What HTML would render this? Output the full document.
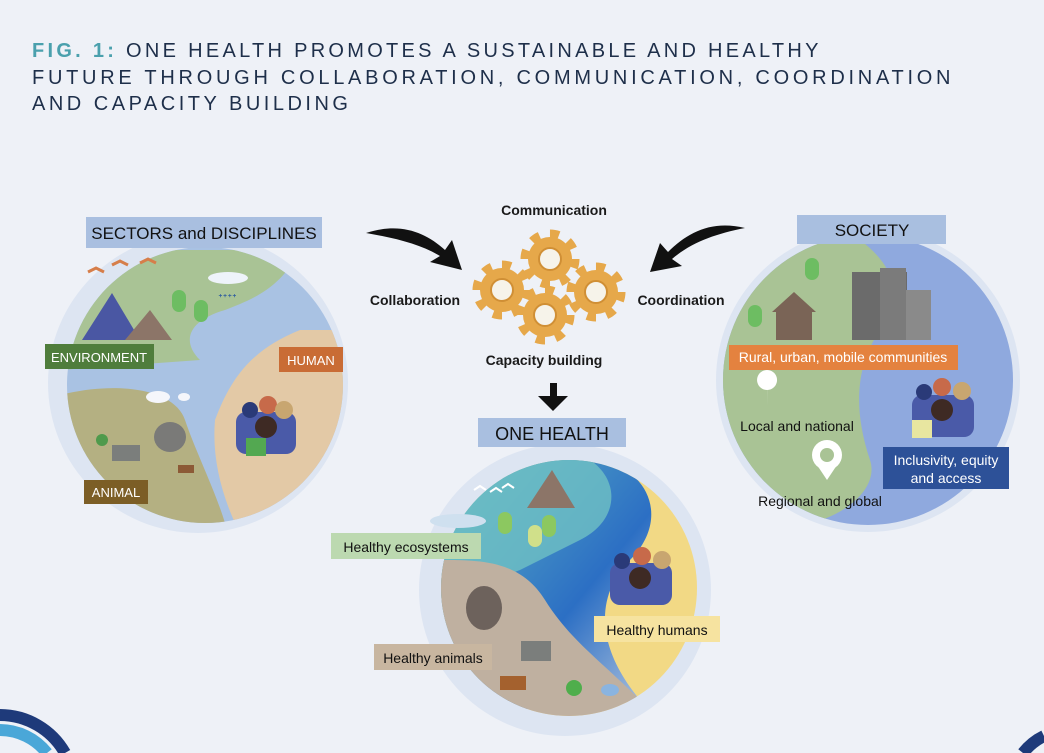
<!DOCTYPE html>
<html><head><meta charset="utf-8"><style>
html,body{margin:0;padding:0;background:#eef1f7;width:1044px;height:753px;overflow:hidden;}
svg{display:block;font-family:"Liberation Sans",sans-serif;}
</style></head><body>
<svg width="1044" height="753" viewBox="0 0 1044 753" xmlns="http://www.w3.org/2000/svg">
<defs>
<g id="gear"><circle r="22" fill="#e6a84a"/><circle r="25" fill="none" stroke="#e6a84a" stroke-width="9" stroke-dasharray="9 10.6"/><circle r="11" fill="#f6f3ea" stroke="#d08f35" stroke-width="2"/></g>
<linearGradient id="swirl" x1="0" y1="0" x2="1" y2="1"><stop offset="0" stop-color="#5fb7c4"/><stop offset="0.6" stop-color="#2c6fc4"/><stop offset="1" stop-color="#b7c8e0"/></linearGradient>
</defs>
<rect width="1044" height="753" fill="#eef1f7"/>
<g font-size="20" fill="#1e2f4a" letter-spacing="3.5">
<text x="32" y="57" textLength="790"><tspan fill="#4aa0ad" font-weight="bold">FIG. 1:</tspan> ONE HEALTH PROMOTES A SUSTAINABLE AND HEALTHY</text>
<text x="32" y="84" textLength="922">FUTURE THROUGH COLLABORATION, COMMUNICATION, COORDINATION</text>
<text x="32" y="110">AND CAPACITY BUILDING</text>
</g>

<circle cx="198" cy="383" r="150" fill="#dde5f2"/>
<circle cx="205" cy="385" r="138" fill="#a9c2e3"/>
<clipPath id="cl"><circle cx="205" cy="385" r="138"/></clipPath>
<g clip-path="url(#cl)">
<path d="M60 250 L300 250 C280 290 250 300 225 310 C190 320 180 340 200 360 L60 370Z" fill="#a9c395"/>
<path d="M60 395 C120 380 175 390 185 420 C195 450 215 490 225 523 L60 523Z" fill="#b4b082"/>
<path d="M215 420 C230 380 250 350 300 330 L343 330 L343 523 L235 523 C220 490 212 455 215 420Z" fill="#e3c9a6"/>
<polygon points="82,340 112,293 140,340" fill="#4a57a3"/><polygon points="125,340 150,310 172,340" fill="#8c7568"/>
<rect x="172" y="290" width="14" height="22" rx="7" fill="#6dbd62"/><rect x="194" y="300" width="14" height="22" rx="7" fill="#6dbd62"/>
<g fill="#2f5d9f" font-size="12"><text x="218" y="302">ᕀᕀᕀᕀ</text></g>
<ellipse cx="228" cy="278" rx="20" ry="6" fill="#eef3fa"/>
<ellipse cx="158" cy="397" rx="12" ry="6" fill="#f5f6fb"/><ellipse cx="184" cy="397" rx="6" ry="4" fill="#f5f6fb"/>
<ellipse cx="170" cy="437" rx="16" ry="15" fill="#7a7a78"/><rect x="112" y="445" width="28" height="16" fill="#7b7e7c"/>
<rect x="178" y="465" width="16" height="8" fill="#8c5a36"/>
<circle cx="102" cy="440" r="6" fill="#4f9a4c"/>
<g><rect x="236" y="412" width="60" height="42" rx="10" fill="#4a5aa8"/><circle cx="250" cy="410" r="8" fill="#2a3a78"/><circle cx="268" cy="405" r="9" fill="#c76a4a"/><circle cx="284" cy="410" r="9" fill="#c8a670"/><circle cx="266" cy="427" r="11" fill="#3e2a24"/><rect x="246" y="438" width="20" height="18" fill="#53a851"/></g>
</g>
<path d="M88 272 l8 -4 l8 4 M112 265 l8 -4 l8 4 M140 263 l8 -4 l8 4" stroke="#d67e4a" stroke-width="3" fill="none"/>
<rect x="86" y="217" width="236" height="31" fill="#a9bfe0"/>
<text x="204" y="239" font-size="17" text-anchor="middle" fill="#111">SECTORS and DISCIPLINES</text>
<rect x="45" y="344" width="109" height="25" fill="#4f7d3c"/><text x="99" y="362" font-size="13" fill="#fff" text-anchor="middle">ENVIRONMENT</text>
<rect x="279" y="347" width="64" height="25" fill="#c96c35"/><text x="311" y="365" font-size="13" fill="#fff" text-anchor="middle">HUMAN</text>
<rect x="84" y="480" width="64" height="24" fill="#7c5e26"/><text x="116" y="497" font-size="13" fill="#fff" text-anchor="middle">ANIMAL</text>

<use href="#gear" x="502" y="290"/><use href="#gear" x="550" y="259"/><use href="#gear" x="596" y="292"/><use href="#gear" x="545" y="315"/>
<g font-size="14" font-weight="bold" fill="#1a1a1a">
<text x="554" y="215" text-anchor="middle">Communication</text>
<text x="415" y="305" text-anchor="middle">Collaboration</text>
<text x="681" y="305" text-anchor="middle">Coordination</text>
<text x="544" y="365" text-anchor="middle">Capacity building</text>
</g>
<path d="M366 233 C400 222 425 232 445 250 L452 240 L462 270 L430 262 L440 256 C420 244 395 238 366 233Z" fill="#111"/>
<path d="M745 228 C712 220 688 232 668 252 L660 243 L650 272 L682 266 L672 259 C692 242 715 234 745 228Z" fill="#111"/>
<path d="M550 383 L557 383 L557 396 L568 396 L553 411 L538 396 L550 396Z" fill="#111"/>

<circle cx="565" cy="590" r="146" fill="#dde5f2"/>
<clipPath id="cb"><circle cx="569" cy="588" r="128"/></clipPath>
<g clip-path="url(#cb)">
<rect x="441" y="460" width="256" height="256" fill="#f2d985"/>
<path d="M441 460 L600 460 C650 470 670 520 630 560 C600 590 590 640 640 700 L441 716Z" fill="url(#swirl)"/>
<path d="M441 460 L590 460 C620 480 620 520 580 540 C560 550 540 560 520 570 L441 600Z" fill="#6fc0c4" opacity="0.8"/>
<path d="M441 560 C480 560 520 560 545 600 C570 640 600 660 640 700 L640 716 L441 716Z" fill="#bfb0a0"/>
<polygon points="527,508 552,470 575,508" fill="#8c7568"/>
<rect x="498" y="512" width="14" height="22" rx="7" fill="#8cc860"/><rect x="528" y="525" width="14" height="22" rx="7" fill="#d0e08a"/><rect x="542" y="515" width="14" height="22" rx="7" fill="#8cc860"/>
<ellipse cx="484" cy="608" rx="18" ry="22" fill="#6d625c"/>
<rect x="521" y="641" width="30" height="20" fill="#7b7e7c"/><rect x="500" y="676" width="26" height="14" fill="#a4612e"/><circle cx="574" cy="688" r="8" fill="#4fae4c"/><ellipse cx="610" cy="690" rx="9" ry="6" fill="#8ab4e0"/>
<g><rect x="610" y="563" width="62" height="42" rx="10" fill="#4a5aa8"/><circle cx="622" cy="561" r="8" fill="#2a3a78"/><circle cx="642" cy="556" r="9" fill="#c76a4a"/><circle cx="662" cy="560" r="9" fill="#c8a670"/><circle cx="640" cy="578" r="11" fill="#3e2a24"/></g>
</g>
<ellipse cx="458" cy="521" rx="28" ry="7" fill="#cfe0ef"/>
<path d="M474 490 l6 -4 l6 4 M490 492 l6 -4 l6 4 M502 488 l6 -4 l6 4" stroke="#fff" stroke-width="2" fill="none"/>
<rect x="478" y="418" width="148" height="29" fill="#a9bfe0"/>
<text x="552" y="440" font-size="18" text-anchor="middle" fill="#111">ONE HEALTH</text>
<rect x="331" y="533" width="150" height="26" fill="#bcd9b0"/><text x="406" y="552" font-size="14" text-anchor="middle" fill="#111">Healthy ecosystems</text>
<rect x="594" y="616" width="126" height="26" fill="#f6e3a0"/><text x="657" y="635" font-size="14" text-anchor="middle" fill="#111">Healthy humans</text>
<rect x="374" y="644" width="118" height="26" fill="#c8b6a0"/><text x="433" y="663" font-size="14" text-anchor="middle" fill="#111">Healthy animals</text>

<circle cx="868" cy="380" r="152" fill="#dde5f2"/>
<circle cx="868" cy="380" r="145" fill="#8fa9de"/>
<clipPath id="cr"><circle cx="868" cy="380" r="145"/></clipPath>
<g clip-path="url(#cr)">
<path d="M723 240 L860 240 C900 270 900 300 880 330 C860 360 850 400 870 460 C880 490 840 520 800 525 L723 525Z" fill="#a9c395"/>
<rect x="776" y="310" width="36" height="30" fill="#7a6456"/><polygon points="772,312 794,292 816,312" fill="#7a6456"/>
<rect x="852" y="272" width="55" height="68" fill="#6b6b6b"/><rect x="880" y="268" width="26" height="72" fill="#7b7b7b"/><rect x="906" y="290" width="25" height="50" fill="#8a8a8a"/>
<rect x="748" y="305" width="14" height="22" rx="7" fill="#6dbd62"/><rect x="805" y="258" width="14" height="22" rx="7" fill="#6dbd62"/>
<path d="M767 390 a10 10 0 1 1 0.1 0 L767 408Z" fill="#fff"/>
<circle cx="827" cy="455" r="15" fill="#fff"/><polygon points="815,462 839,462 827,480" fill="#fff"/><circle cx="827" cy="455" r="7" fill="#a9c395"/>
<g><rect x="912" y="395" width="62" height="42" rx="10" fill="#4a5aa8"/><circle cx="924" cy="392" r="8" fill="#2a3a78"/><circle cx="942" cy="387" r="9" fill="#c76a4a"/><circle cx="962" cy="391" r="9" fill="#c8a670"/><circle cx="942" cy="410" r="11" fill="#3e2a24"/><rect x="912" y="420" width="20" height="18" fill="#e8e6a0"/></g>
</g>
<rect x="797" y="215" width="149" height="29" fill="#a9bfe0"/>
<text x="872" y="236" font-size="17" text-anchor="middle" fill="#111">SOCIETY</text>
<rect x="729" y="345" width="229" height="25" fill="#e4823f"/><text x="843" y="362" font-size="14" text-anchor="middle" fill="#fff">Rural, urban, mobile communities</text>
<text x="797" y="431" font-size="14" text-anchor="middle" fill="#111">Local and national</text>
<text x="820" y="506" font-size="14" text-anchor="middle" fill="#111">Regional and global</text>
<rect x="883" y="447" width="126" height="42" fill="#2d5198"/>
<text x="946" y="465" font-size="14" text-anchor="middle" fill="#fff">Inclusivity, equity</text>
<text x="946" y="483" font-size="14" text-anchor="middle" fill="#fff">and access</text>

<path d="M0 715 A75 75 0 0 1 65 753" fill="none" stroke="#1e3a7a" stroke-width="12"/>
<path d="M0 730 A60 60 0 0 1 47 753" fill="none" stroke="#4aa7d8" stroke-width="12"/>
<path d="M1023 753 A60 60 0 0 1 1044 736" fill="none" stroke="#1e3a7a" stroke-width="12"/>
</svg>
</body></html>
